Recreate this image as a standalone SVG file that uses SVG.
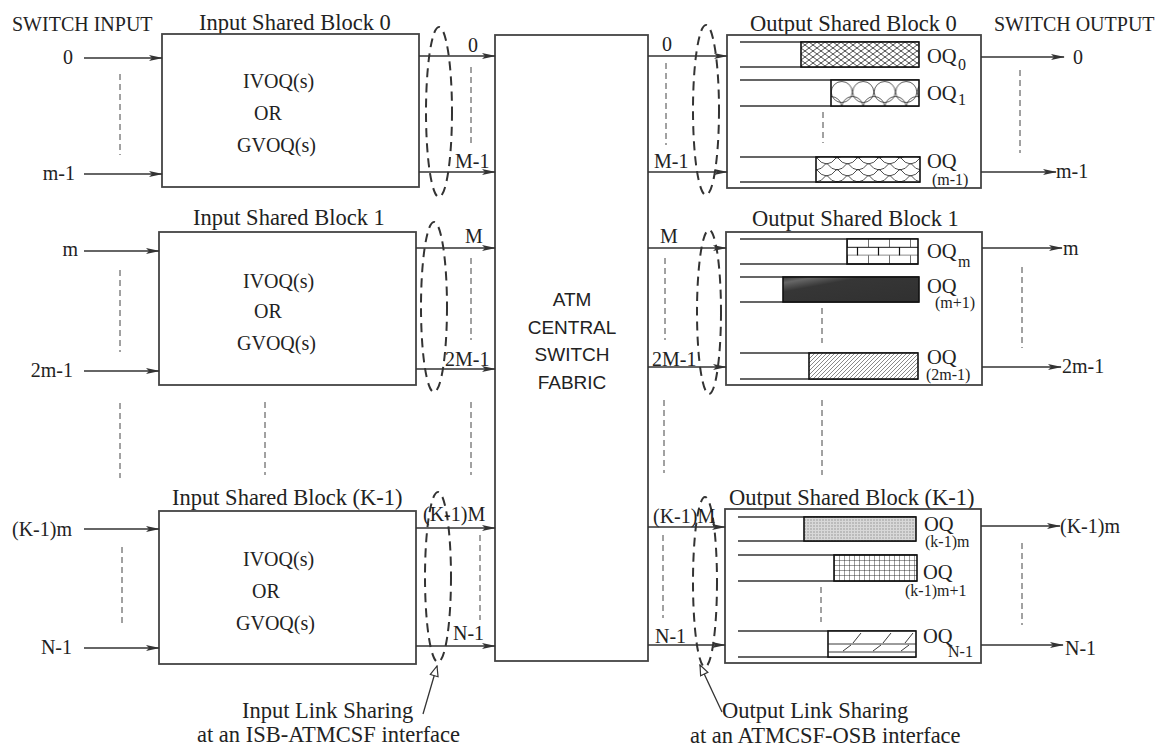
<svg xmlns="http://www.w3.org/2000/svg" width="1169" height="749" viewBox="0 0 1169 749">
<style>
text{font-family:"Liberation Serif","Times New Roman",serif;fill:#222;font-size:20px}
.t{font-size:22.5px}
.oq{font-size:20.5px}
.sub{font-size:16px}
.sans{font-family:"Liberation Sans",Arial,sans-serif;font-size:19px;text-anchor:middle}
.blk{fill:#fff;stroke:#444;stroke-width:1.8}
.ln{stroke:#333;stroke-width:1.6;fill:none}
.arr{stroke:#333;stroke-width:1.6;fill:none;marker-end:url(#ah)}
.dash{stroke:#444;stroke-width:1;stroke-dasharray:6 4;fill:none}
.ell{stroke:#333;stroke-width:2;stroke-dasharray:9 6;fill:none}
.ql{stroke:#333;stroke-width:1.3;fill:none}
.qf{stroke:#111;stroke-width:1.6}
</style>
<defs>
<marker id="ah" markerWidth="14" markerHeight="6" refX="13" refY="3" orient="auto" markerUnits="userSpaceOnUse"><path d="M0,0 L14,3 L0,6 L3,3 z" fill="#333"/></marker>
<marker id="ho" markerWidth="12" markerHeight="10" refX="11" refY="5" orient="auto" markerUnits="userSpaceOnUse"><path d="M1,1 L11,5 L1,9 z" fill="#fff" stroke="#333" stroke-width="1.2"/></marker>
<pattern id="pX" width="8" height="6" patternUnits="userSpaceOnUse" x="801" y="42"><rect width="8" height="6" fill="#fff"/><path d="M0,0 L8,6 M8,0 L0,6" stroke="#222" stroke-width="0.8"/></pattern>
<pattern id="pC" width="21.5" height="26" patternUnits="userSpaceOnUse" x="831" y="80"><rect width="21.5" height="26" fill="#fff"/><circle cx="10.75" cy="12" r="10.5" fill="none" stroke="#333" stroke-width="0.8"/><circle cx="0" cy="27" r="10.5" fill="none" stroke="#333" stroke-width="0.8"/><circle cx="21.5" cy="27" r="10.5" fill="none" stroke="#333" stroke-width="0.8"/></pattern>
<pattern id="pS" width="21" height="12" patternUnits="userSpaceOnUse" x="816" y="157"><rect width="21" height="12" fill="#fff"/><path d="M0,0 Q10.5,14 21,0 M-10.5,6 Q0,20 10.5,6 M10.5,6 Q21,20 31.5,6 M-10.5,-6 Q0,8 10.5,-6 M10.5,-6 Q21,8 31.5,-6" stroke="#222" stroke-width="0.8" fill="none"/></pattern>
<pattern id="pB" width="21" height="16.6" patternUnits="userSpaceOnUse" x="847" y="239"><rect width="21" height="16.6" fill="#fff"/><path d="M0,8.3 H21 M0,16.6 H21 M0,0 V8.3 M10.5,8.3 V16.6" stroke="#111" stroke-width="1.2"/></pattern>
<linearGradient id="gD" x1="0" y1="0" x2="1" y2="1"><stop offset="0" stop-color="#3a3a3a"/><stop offset="0.12" stop-color="#666"/><stop offset="0.3" stop-color="#363636"/><stop offset="1" stop-color="#303030"/></linearGradient>
<pattern id="pH" width="4" height="4" patternUnits="userSpaceOnUse"><rect width="4" height="4" fill="#fff"/><path d="M0,4 L4,0 M-1,1 L1,-1 M3,5 L5,3" stroke="#555" stroke-width="0.7"/></pattern>
<pattern id="pD" width="3" height="3" patternUnits="userSpaceOnUse"><rect width="3" height="3" fill="#d8d8d8"/><circle cx="1" cy="1" r="0.7" fill="#888"/></pattern>
<pattern id="pG" width="5" height="5" patternUnits="userSpaceOnUse" x="834" y="555"><rect width="5" height="5" fill="#fff"/><path d="M0,0 H5 M0,0 V5" stroke="#222" stroke-width="0.9"/></pattern>
</defs>
<rect width="1169" height="749" fill="#fff"/>

<g id="headers">
<text x="12" y="31">SWITCH INPUT</text>
<text x="994" y="31">SWITCH OUTPUT</text>
</g>

<g id="input-block-0">
<text class="t" x="199" y="30">Input Shared Block 0</text>
<rect class="blk" x="162" y="34" width="257" height="153"/>
<text x="243" y="88">IVOQ(s)</text>
<text x="254" y="120">OR</text>
<text x="237" y="152">GVOQ(s)</text>
</g>

<g id="input-block-1">
<text class="t" x="193" y="225">Input Shared Block 1</text>
<rect class="blk" x="159" y="232" width="257" height="153"/>
<text x="243" y="288">IVOQ(s)</text>
<text x="254" y="318">OR</text>
<text x="237" y="350">GVOQ(s)</text>
</g>

<g id="input-block-k1">
<text class="t" x="172" y="505">Input Shared Block (K-1)</text>
<rect class="blk" x="159" y="511" width="257" height="153"/>
<text x="243" y="566">IVOQ(s)</text>
<text x="252" y="598">OR</text>
<text x="236" y="630">GVOQ(s)</text>
</g>

<g id="fabric">
<rect class="blk" x="495" y="35" width="153" height="626"/>
<text class="sans" x="572" y="306">ATM</text>
<text class="sans" x="572" y="334">CENTRAL</text>
<text class="sans" x="572" y="361">SWITCH</text>
<text class="sans" x="572" y="389">FABRIC</text>
</g>

<g id="output-block-0">
<text class="t" x="750" y="31">Output Shared Block 0</text>
<rect class="blk" x="727" y="35" width="254" height="153"/>
<path class="ql" d="M740,42 H919 M740,67 H919"/>
<rect class="qf" x="801" y="42" width="118" height="25" fill="url(#pX)"/>
<text class="oq" x="927" y="63">OQ</text><text class="sub" x="958" y="70">0</text>
<path class="ql" d="M740,80 H919 M740,106 H919"/>
<rect class="qf" x="831" y="80" width="88" height="26" fill="url(#pC)"/>
<text class="oq" x="927" y="100">OQ</text><text class="sub" x="958" y="105">1</text>
<path class="ql" d="M740,157 H920 M740,182 H920"/>
<rect class="qf" x="816" y="157" width="104" height="25" fill="url(#pS)"/>
<text class="oq" x="927" y="168">OQ</text><text class="sub" x="932" y="185">(m-1)</text>
</g>

<g id="output-block-1">
<text class="t" x="752" y="226">Output Shared Block 1</text>
<rect class="blk" x="726" y="232" width="256" height="153"/>
<path class="ql" d="M740,239 H918 M740,264 H918"/>
<rect class="qf" x="847" y="239" width="71" height="25" fill="url(#pB)"/>
<text class="oq" x="927" y="258">OQ</text><text class="sub" x="958" y="267">m</text>
<path class="ql" d="M740,277 H919 M740,302 H919"/>
<rect class="qf" x="783" y="277" width="136" height="25" fill="url(#gD)"/>
<text class="oq" x="927" y="293">OQ</text><text class="sub" x="935" y="308">(m+1)</text>
<path class="ql" d="M740,353 H918 M740,379 H918"/>
<rect class="qf" x="809" y="353" width="109" height="26" fill="url(#pH)"/>
<text class="oq" x="927" y="364">OQ</text><text class="sub" x="926" y="380">(2m-1)</text>
</g>

<g id="output-block-k1">
<text class="t" x="729" y="505">Output Shared Block (K-1)</text>
<rect class="blk" x="725" y="509" width="256" height="154"/>
<path class="ql" d="M738,517 H916 M738,541 H916"/>
<rect class="qf" x="804" y="517" width="112" height="24" fill="url(#pD)"/>
<text class="oq" x="924" y="531">OQ</text><text class="sub" x="925" y="547">(k-1)m</text>
<path class="ql" d="M738,555 H917 M738,581 H917"/>
<rect class="qf" x="834" y="555" width="83" height="26" fill="url(#pG)"/>
<text class="oq" x="923" y="579">OQ</text><text class="sub" x="905" y="596">(k-1)m+1</text>
<path class="ql" d="M738,631 H916 M738,657 H916"/>
<rect class="qf" x="828" y="631" width="88" height="26" fill="#fff"/>
<path d="M828,644 H916 M828,652 H916 M853,643 L861,633 M883,643 L891,633 M905,643 L913,633 M843,651 L851,645 M873,651 L881,645 M901,651 L909,645" stroke="#222" stroke-width="0.9" fill="none"/>
<text class="oq" x="923" y="643">OQ</text><text class="sub" x="948" y="657">N-1</text>
</g>

<g id="connectors">
<path class="arr" d="M84,58 H162"/>
<path class="arr" d="M84,174 H162"/>
<path class="arr" d="M84,251 H159"/>
<path class="arr" d="M84,371 H159"/>
<path class="arr" d="M84,529 H159"/>
<path class="arr" d="M84,648 H159"/>
<path class="arr" d="M419,56 H495"/>
<path class="arr" d="M419,172 H495"/>
<path class="arr" d="M416,248 H495"/>
<path class="arr" d="M416,369 H495"/>
<path class="arr" d="M416,528 H495"/>
<path class="arr" d="M416,646 H495"/>
<path class="arr" d="M648,56 H727"/>
<path class="arr" d="M648,172 H727"/>
<path class="arr" d="M648,248 H726"/>
<path class="arr" d="M648,367 H726"/>
<path class="arr" d="M648,527 H725"/>
<path class="arr" d="M648,645 H725"/>
<path class="arr" d="M981,57 H1064"/>
<path class="arr" d="M981,172 H1056"/>
<path class="arr" d="M982,248 H1062"/>
<path class="arr" d="M982,367 H1061"/>
<path class="arr" d="M981,526 H1060"/>
<path class="arr" d="M981,645 H1063"/>
<ellipse class="ell" cx="439" cy="112" rx="13" ry="85"/>
<ellipse class="ell" cx="434" cy="307" rx="13" ry="85"/>
<ellipse class="ell" cx="438" cy="577" rx="13" ry="85"/>
<ellipse class="ell" cx="706" cy="110" rx="13" ry="85"/>
<ellipse class="ell" cx="709" cy="312" rx="12" ry="82"/>
<ellipse class="ell" cx="705" cy="582" rx="12" ry="85"/>
<path class="ln" d="M423,714 L437,666" marker-end="url(#ho)" style="stroke-width:1.3"/>
<path class="ln" d="M722,712 L700,665" marker-end="url(#ho)" style="stroke-width:1.3"/>
<path class="dash" d="M120,74 V155 M120,270 V352 M120,403 V478 M122,547 V627"/>
<path class="dash" d="M265,402 V475"/>
<path class="dash" d="M471,67 V147 M471,258 V340 M471,402 V475 M480,535 V620"/>
<path class="dash" d="M666,63 V145 M665,258 V340 M664,400 V473 M663,535 V618"/>
<path class="dash" d="M823,112 V143 M822,308 V343 M822,400 V475 M821,587 V622"/>
<path class="dash" d="M1020,70 V153 M1022,267 V348 M1022,543 V625"/>
</g>

<g id="labels">
<text x="73" y="64" text-anchor="end">0</text>
<text x="75" y="180" text-anchor="end">m-1</text>
<text x="78" y="256" text-anchor="end">m</text>
<text x="73" y="377" text-anchor="end">2m-1</text>
<text x="72" y="536" text-anchor="end">(K-1)m</text>
<text x="72" y="654" text-anchor="end">N-1</text>
<text x="468" y="52">0</text>
<text x="455" y="168">M-1</text>
<text x="465" y="243">M</text>
<text x="445" y="366">2M-1</text>
<text x="423" y="521">(K-1)M</text>
<text x="453" y="640">N-1</text>
<text x="662" y="51">0</text>
<text x="654" y="168">M-1</text>
<text x="660" y="243">M</text>
<text x="652" y="366">2M-1</text>
<text x="653" y="523">(K-1)M</text>
<text x="655" y="643">N-1</text>
<text x="1073" y="64">0</text>
<text x="1056" y="178">m-1</text>
<text x="1063" y="255">m</text>
<text x="1062" y="373">2m-1</text>
<text x="1060" y="533">(K-1)m</text>
<text x="1065" y="655">N-1</text>
<text class="t" x="242" y="718">Input Link Sharing</text>
<text class="t" x="197" y="742">at an ISB-ATMCSF interface</text>
<text class="t" x="722" y="718">Output Link Sharing</text>
<text class="t" x="690" y="743">at an ATMCSF-OSB interface</text>
</g>
</svg>
